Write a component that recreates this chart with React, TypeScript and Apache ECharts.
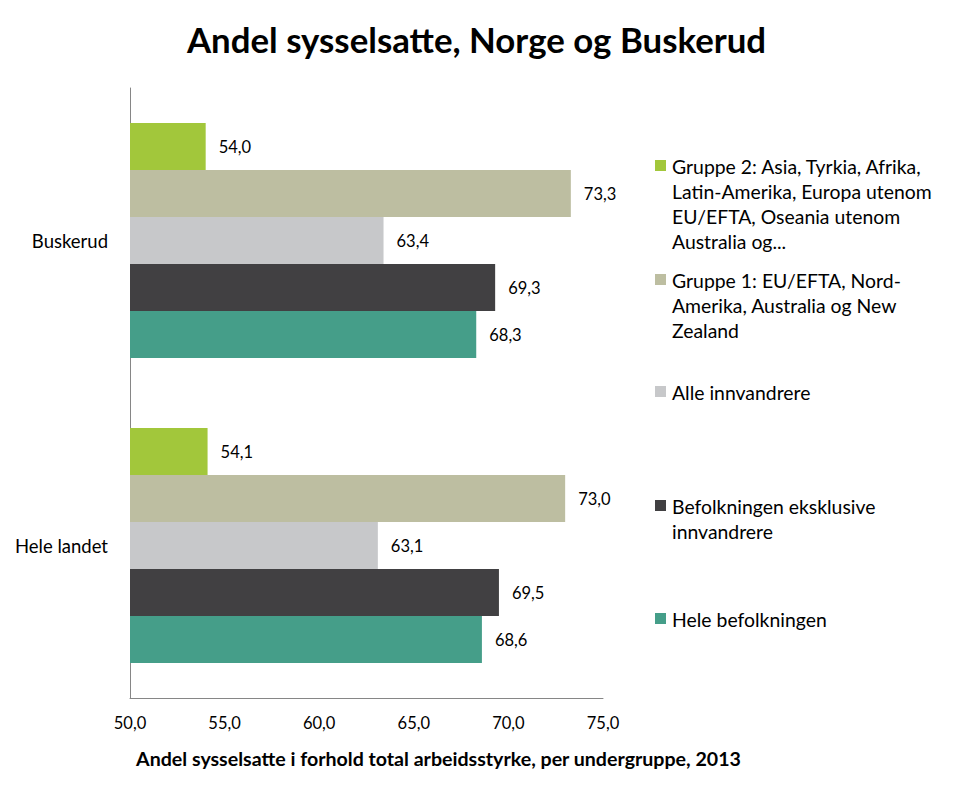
import React, { useEffect, useRef } from "react";
import * as echarts from "echarts";

const categories = ["Buskerud", "Hele landet"];
const seriesNames = [
  "Gruppe 2: Asia, Tyrkia, Afrika, Latin-Amerika, Europa utenom EU/EFTA, Oseania utenom Australia og...",
  "Gruppe 1: EU/EFTA, Nord-Amerika, Australia og New Zealand",
  "Alle innvandrere",
  "Befolkningen eksklusive innvandrere",
  "Hele befolkningen",
];
const legendLines = [
  ["Gruppe 2: Asia, Tyrkia, Afrika,", "Latin-Amerika, Europa utenom", "EU/EFTA, Oseania utenom", "Australia og..."],
  ["Gruppe 1: EU/EFTA, Nord-", "Amerika, Australia og New", "Zealand"],
  ["Alle innvandrere"],
  ["Befolkningen eksklusive", "innvandrere"],
  ["Hele befolkningen"],
];
const gruppe2 = [54.0, 54.1];
const gruppe1 = [73.3, 73.0];
const alleInnvandrere = [63.4, 63.1];
const eksklusive = [69.3, 69.5];
const heleBefolkningen = [68.3, 68.6];
const seriesValues = [gruppe2, gruppe1, alleInnvandrere, eksklusive, heleBefolkningen];
const colors = ["#A2C73B", "#BDBEA1", "#C7C8CA", "#414042", "#459E89"];
const legendTops = [166, 280, 392, 506, 619];

const FONT = "Lato, 'Open Sans', sans-serif";
const fmt = (v: number) => v.toFixed(1).replace(".", ",");

export default function App() {
  const ref = useRef<HTMLDivElement>(null);
  useEffect(() => {
    if (!ref.current) return;
    const chart = echarts.init(ref.current, undefined, { renderer: "svg" });
    const graphic: any[] = [];
    legendLines.forEach((lines, i) => {
      const y = legendTops[i];
      graphic.push({
        type: "rect",
        left: 655,
        top: y - 6,
        shape: { width: 11, height: 11 },
        style: { fill: colors[i] },
      });
      graphic.push({
        type: "text",
        left: 672,
        top: y - 12.5,
        style: {
          text: lines.join("\n"),
          font: `19.4px ${FONT}`,
          fill: "#000",
          lineHeight: 25,
        },
      });
    });
    chart.setOption({
      animation: false,
      title: {
        text: "Andel sysselsatte, Norge og Buskerud",
        left: "center",
        top: 17,
        textStyle: { fontFamily: FONT, fontWeight: "bold", fontSize: 34.8, color: "#000" },
      },
      grid: { left: 130, right: 350, top: 88, bottom: 99, containLabel: false },
      xAxis: {
        type: "value",
        min: 50,
        max: 75,
        interval: 5,
        axisLine: { show: true, lineStyle: { color: "#868686" } },
        axisTick: { show: false },
        splitLine: { show: false },
        axisLabel: {
          formatter: (v: number) => fmt(v),
          fontFamily: FONT,
          fontSize: 16.5,
          color: "#000",
          margin: 16,
        },
        name: "Andel sysselsatte i forhold total arbeidsstyrke, per undergruppe, 2013",
        nameLocation: "middle",
        nameGap: 50,
        nameTextStyle: {
          fontFamily: FONT,
          fontWeight: "bold",
          fontSize: 19.6,
          color: "#000",
          padding: [0, 0, 0, 144],
        },
      },
      yAxis: {
        type: "category",
        data: categories,
        inverse: true,
        axisLine: { show: true, lineStyle: { color: "#868686" } },
        axisTick: { show: false },
        axisLabel: { fontFamily: FONT, fontSize: 18.5, color: "#000", margin: 22 },
      },
      series: seriesNames.map((name, i) => ({
        type: "bar",
        name,
        data: seriesValues[i],
        barWidth: 47,
        barGap: "0%",
        itemStyle: { color: colors[i] },
        label: {
          show: true,
          position: "right",
          distance: 13,
          formatter: (p: any) => fmt(p.value),
          fontFamily: FONT,
          fontSize: 16.5,
          color: "#000",
        },
      })),
      graphic,
    });
    return () => chart.dispose();
  }, []);
  return (
    <div
      ref={ref}
      style={{ position: "fixed", left: 0, top: 0, width: 953, height: 797, background: "#fff" }}
    />
  );
}
